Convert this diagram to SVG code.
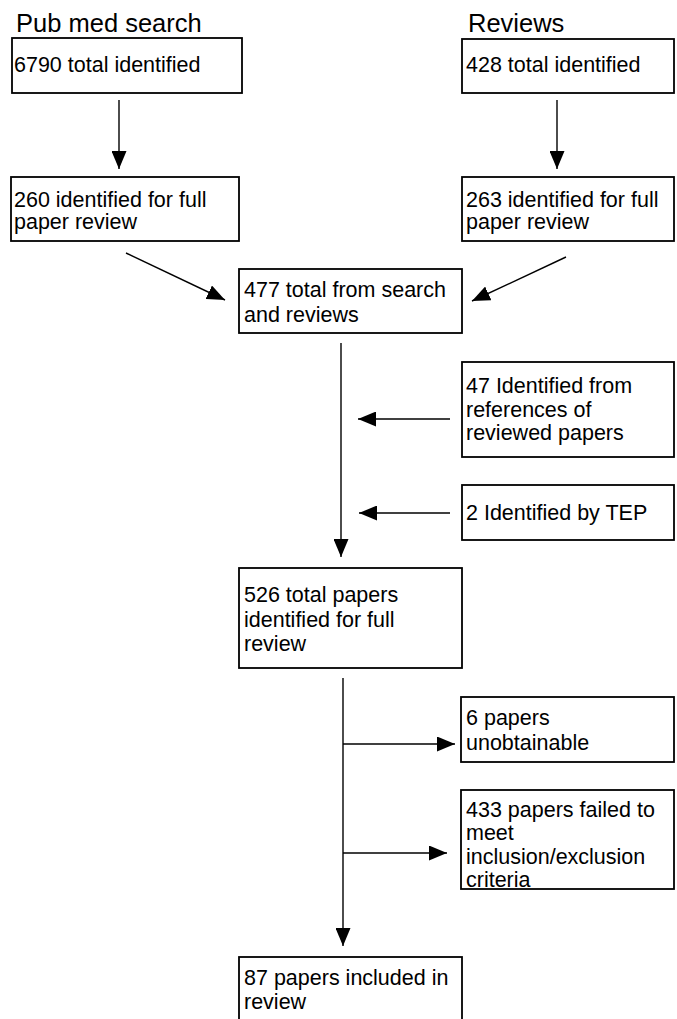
<svg xmlns="http://www.w3.org/2000/svg" width="677" height="1019" viewBox="0 0 677 1019">
<style>
.box{fill:#fff;stroke:#000;stroke-width:1.8}
.t{font-family:"Liberation Sans",Arial,sans-serif;font-size:21.5px;fill:#000}
.h{font-family:"Liberation Sans",Arial,sans-serif;font-size:25.5px;fill:#000}
.c{stroke:#000;stroke-width:1.4;fill:none;marker-end:url(#ah)}
</style>
<defs>
<marker id="ah" markerUnits="userSpaceOnUse" markerWidth="18" markerHeight="15" refX="18" refY="7.5" orient="auto">
<path d="M0,0 L18,7.5 L0,15 z" fill="#000"/>
</marker>
</defs>
<rect width="677" height="1019" fill="#fff"/>
<text class="h" x="16" y="32">Pub med search</text>
<text class="h" x="468" y="32">Reviews</text>
<g id="connectors">
<line class="c" x1="119" y1="100" x2="119" y2="169"/>
<line class="c" x1="557" y1="100" x2="557" y2="169"/>
<line class="c" x1="126" y1="253" x2="225" y2="300"/>
<line class="c" x1="566" y1="257" x2="472" y2="301"/>
<line class="c" x1="341" y1="343" x2="341" y2="557"/>
<line class="c" x1="450" y1="419" x2="358" y2="419"/>
<line class="c" x1="450" y1="513" x2="359" y2="513"/>
<line class="c" x1="343" y1="678" x2="343" y2="946"/>
<line class="c" x1="343" y1="744" x2="455" y2="744"/>
<line class="c" x1="343" y1="853" x2="447" y2="853"/>
</g>
<g id="n1"><rect class="box" x="12" y="38" width="230" height="55"/><text class="t" x="14" y="71.5">6790 total identified</text></g>
<g id="n2"><rect class="box" x="462" y="39" width="212" height="54"/><text class="t" x="466" y="71.5">428 total identified</text></g>
<g id="n3"><rect class="box" x="11" y="177" width="228" height="64"/><text class="t" x="14" y="206.5">260 identified for full</text><text class="t" x="14" y="229">paper review</text></g>
<g id="n4"><rect class="box" x="462" y="177" width="212" height="64"/><text class="t" x="466" y="206.5">263 identified for full</text><text class="t" x="466" y="229">paper review</text></g>
<g id="n5"><rect class="box" x="239" y="269" width="223" height="64"/><text class="t" x="244" y="297">477 total from search</text><text class="t" x="244" y="321.5">and reviews</text></g>
<g id="n6"><rect class="box" x="462" y="362" width="212" height="95"/><text class="t" x="466" y="393">47 Identified from</text><text class="t" x="466" y="416.5">references of</text><text class="t" x="466" y="440">reviewed papers</text></g>
<g id="n7"><rect class="box" x="462" y="485" width="212" height="55"/><text class="t" x="466" y="520">2 Identified by TEP</text></g>
<g id="n8"><rect class="box" x="239" y="568" width="223" height="100"/><text class="t" x="244" y="601.5">526 total papers</text><text class="t" x="244" y="626.5">identified for full</text><text class="t" x="244" y="651">review</text></g>
<g id="n9"><rect class="box" x="461" y="697" width="213" height="65"/><text class="t" x="466" y="725">6 papers</text><text class="t" x="466" y="750">unobtainable</text></g>
<g id="n10"><rect class="box" x="461" y="790" width="213" height="99"/><text class="t" x="466" y="816.5">433 papers failed to</text><text class="t" x="466" y="840">meet</text><text class="t" x="466" y="863.5">inclusion/exclusion</text><text class="t" x="466" y="887">criteria</text></g>
<g id="n11"><rect class="box" x="239" y="957" width="223" height="70"/><text class="t" x="244" y="985">87 papers included in</text><text class="t" x="244" y="1008.5">review</text></g>
</svg>
